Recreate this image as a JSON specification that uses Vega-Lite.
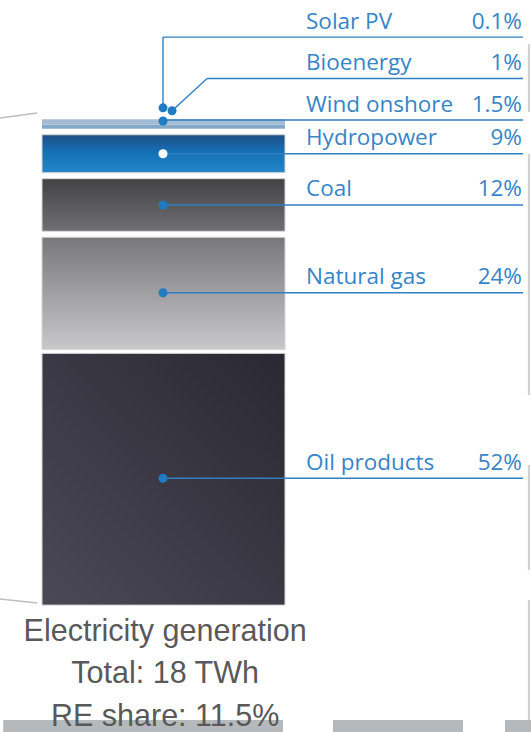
{
  "$schema": "https://vega.github.io/schema/vega-lite/v6.json",
  "width": 531,
  "height": 732,
  "autosize": {"type": "none"},
  "padding": 0,
  "background": "#ffffff",
  "config": {"view": {"stroke": null}},
  "layer": [
    {
      "data": {"values": [{}]},
      "mark": {"type": "rule", "color": "#bdbdbd", "strokeWidth": 1.5},
      "encoding": {
        "x": {"datum": 0, "type": "quantitative", "scale": {"domain": [0, 100], "nice": false, "zero": false}, "axis": null},
        "x2": {"datum": 6.97},
        "y": {"datum": 99.8, "type": "quantitative", "scale": {"domain": [-26, 124], "nice": false, "zero": false}, "axis": null},
        "y2": {"datum": 100.84}
      }
    },
    {
      "data": {"values": [{}]},
      "mark": {"type": "rule", "color": "#bdbdbd", "strokeWidth": 1.5},
      "encoding": {
        "x": {"datum": 0, "type": "quantitative", "scale": {"domain": [0, 100], "nice": false, "zero": false}, "axis": null},
        "x2": {"datum": 6.97},
        "y": {"datum": 1.25, "type": "quantitative", "scale": {"domain": [-26, 124], "nice": false, "zero": false}, "axis": null},
        "y2": {"datum": 0.43}
      }
    },
    {
      "data": {"values": [{"y": 114.98, "y2": 101.05}, {"y": 92.44, "y2": 43.06}, {"y": 28.71, "y2": 7.2}, {"y": 1.05, "y2": -24.57}]},
      "mark": {"type": "rule", "color": "#cfcfcf", "strokeWidth": 2},
      "encoding": {
        "x": {"datum": 99.6, "type": "quantitative", "scale": {"domain": [0, 100], "nice": false, "zero": false}, "axis": null},
        "y": {"field": "y", "type": "quantitative", "scale": {"domain": [-26, 124], "nice": false, "zero": false}, "axis": null},
        "y2": {"field": "y2"}
      }
    },
    {
      "data": {"values": [{"x": 0.6, "x2": 53.3}, {"x": 62.7, "x2": 87.2}, {"x": 95.1, "x2": 100}]},
      "mark": {"type": "bar", "color": "#b6b9bb"},
      "encoding": {
        "x": {"field": "x", "type": "quantitative", "scale": {"domain": [0, 100], "nice": false, "zero": false}, "axis": null},
        "x2": {"field": "x2"},
        "y": {"datum": -23.55, "type": "quantitative", "scale": {"domain": [-26, 124], "nice": false, "zero": false}, "axis": null},
        "y2": {"datum": -26}
      }
    },
    {
      "data": {
        "values": [
          {"source": "Oil products", "share": 52, "order": 0},
          {"source": "Natural gas", "share": 24, "order": 1},
          {"source": "Coal", "share": 12, "order": 2},
          {"source": "Hydropower", "share": 9, "order": 3},
          {"source": "Wind onshore", "share": 1.5, "order": 4},
          {"source": "Bioenergy", "share": 1, "order": 5},
          {"source": "Solar PV", "share": 0.1, "order": 6}
        ]
      },
      "transform": [
        {"stack": "share", "groupby": [], "sort": [{"field": "order", "order": "ascending"}], "as": ["y0", "y1"]},
        {"joinaggregate": [{"op": "sum", "field": "share", "as": "total"}]},
        {"calculate": "(datum.y0 + datum.y1) / 2", "as": "mid"},
        {"calculate": "datum.order < 4 ? datum.mid : datum.total + (datum.order - 4) * 8.5 - 0.2", "as": "labelY"},
        {"calculate": "datum.order < 4 ? datum.mid : (datum.order == 4 ? datum.labelY - 0.2 : datum.total + (datum.order == 5 ? 1.7 : 2.3))", "as": "dotY"},
        {"calculate": "datum.order == 5 ? 32.4 : 30.7", "as": "dotX"},
        {"calculate": "datum.order == 5 ? 39 : 30.7", "as": "elbowX"},
        {"calculate": "datum.share + '%'", "as": "pct"}
      ],
      "layer": [
        {
          "transform": [{"filter": "datum.order == 0"}],
          "mark": {
            "type": "bar", "yOffset": 2, "stroke": "#d4d4d4", "strokeWidth": 1,
            "fill": {"gradient": "linear", "x1": 0, "y1": 1, "x2": 1, "y2": 0,
              "stops": [{"offset": 0, "color": "#4c4957"}, {"offset": 1, "color": "#2a2832"}]}
          },
          "encoding": {
            "x": {"datum": 7.91, "type": "quantitative", "scale": {"domain": [0, 100], "nice": false, "zero": false}, "axis": null},
            "x2": {"datum": 53.67},
            "y": {"field": "y1", "type": "quantitative", "scale": {"domain": [-26, 124], "nice": false, "zero": false}, "axis": null},
            "y2": {"field": "y0"}
          }
        },
        {
          "transform": [{"filter": "datum.order == 1"}],
          "mark": {
            "type": "bar", "yOffset": 3, "y2Offset": -2, "stroke": "#d4d4d4", "strokeWidth": 1,
            "fill": {"gradient": "linear", "x1": 0, "y1": 0, "x2": 0, "y2": 1,
              "stops": [{"offset": 0, "color": "#78777b"}, {"offset": 1, "color": "#c8c8ca"}]}
          },
          "encoding": {
            "x": {"datum": 7.91, "type": "quantitative", "scale": {"domain": [0, 100], "nice": false, "zero": false}, "axis": null},
            "x2": {"datum": 53.67},
            "y": {"field": "y1", "type": "quantitative", "scale": {"domain": [-26, 124], "nice": false, "zero": false}, "axis": null},
            "y2": {"field": "y0"}
          }
        },
        {
          "transform": [{"filter": "datum.order == 2"}],
          "mark": {
            "type": "bar", "yOffset": 3, "y2Offset": -3, "stroke": "#d4d4d4", "strokeWidth": 1,
            "fill": {"gradient": "linear", "x1": 0, "y1": 0, "x2": 0, "y2": 1,
              "stops": [{"offset": 0, "color": "#434245"}, {"offset": 1, "color": "#706f72"}]}
          },
          "encoding": {
            "x": {"datum": 7.91, "type": "quantitative", "scale": {"domain": [0, 100], "nice": false, "zero": false}, "axis": null},
            "x2": {"datum": 53.67},
            "y": {"field": "y1", "type": "quantitative", "scale": {"domain": [-26, 124], "nice": false, "zero": false}, "axis": null},
            "y2": {"field": "y0"}
          }
        },
        {
          "transform": [{"filter": "datum.order == 3"}],
          "mark": {
            "type": "bar", "yOffset": 3, "y2Offset": -3, "stroke": "#d4d4d4", "strokeWidth": 1,
            "fill": {"gradient": "linear", "x1": 0, "y1": 0, "x2": 0, "y2": 1,
              "stops": [{"offset": 0, "color": "#1f4e84"}, {"offset": 0.45, "color": "#1570b6"}, {"offset": 1, "color": "#2586c8"}]}
          },
          "encoding": {
            "x": {"datum": 7.91, "type": "quantitative", "scale": {"domain": [0, 100], "nice": false, "zero": false}, "axis": null},
            "x2": {"datum": 53.67},
            "y": {"field": "y1", "type": "quantitative", "scale": {"domain": [-26, 124], "nice": false, "zero": false}, "axis": null},
            "y2": {"field": "y0"}
          }
        },
        {
          "transform": [{"filter": "datum.order == 4"}],
          "mark": {"type": "bar", "y2Offset": -3, "fill": "#86a8c8"},
          "encoding": {
            "x": {"datum": 7.91, "type": "quantitative", "scale": {"domain": [0, 100], "nice": false, "zero": false}, "axis": null},
            "x2": {"datum": 53.67},
            "y": {"field": "y1", "type": "quantitative", "scale": {"domain": [-26, 124], "nice": false, "zero": false}, "axis": null},
            "y2": {"field": "y0"}
          }
        },
        {
          "transform": [{"filter": "datum.order >= 5"}],
          "mark": {"type": "bar", "fill": "#a3bcd4"},
          "encoding": {
            "x": {"datum": 7.91, "type": "quantitative", "scale": {"domain": [0, 100], "nice": false, "zero": false}, "axis": null},
            "x2": {"datum": 53.67},
            "y": {"field": "y1", "type": "quantitative", "scale": {"domain": [-26, 124], "nice": false, "zero": false}, "axis": null},
            "y2": {"field": "y0"}
          }
        },
        {
          "mark": {"type": "rule", "color": "#2f80c2", "strokeWidth": 1.4},
          "encoding": {
            "x": {"field": "dotX", "type": "quantitative", "scale": {"domain": [0, 100], "nice": false, "zero": false}, "axis": null},
            "x2": {"field": "elbowX"},
            "y": {"field": "dotY", "type": "quantitative", "scale": {"domain": [-26, 124], "nice": false, "zero": false}, "axis": null},
            "y2": {"field": "labelY"}
          }
        },
        {
          "mark": {"type": "rule", "color": "#2f80c2", "strokeWidth": 1.4},
          "encoding": {
            "x": {"field": "elbowX", "type": "quantitative", "scale": {"domain": [0, 100], "nice": false, "zero": false}, "axis": null},
            "x2": {"datum": 98.5},
            "y": {"field": "labelY", "type": "quantitative", "scale": {"domain": [-26, 124], "nice": false, "zero": false}, "axis": null},
            "y2": {"field": "labelY"}
          }
        },
        {
          "mark": {"type": "point", "filled": true, "size": 81, "opacity": 1, "strokeWidth": 0},
          "encoding": {
            "x": {"field": "dotX", "type": "quantitative", "scale": {"domain": [0, 100], "nice": false, "zero": false}, "axis": null},
            "y": {"field": "dotY", "type": "quantitative", "scale": {"domain": [-26, 124], "nice": false, "zero": false}, "axis": null},
            "fill": {"condition": {"test": "datum.order == 3", "value": "#ffffff"}, "value": "#1f7cc2"}
          }
        },
        {
          "mark": {"type": "text", "align": "left", "baseline": "alphabetic", "dy": -8.5, "font": "Open Sans", "fontSize": 22.5, "color": "#3585c7"},
          "encoding": {
            "x": {"datum": 57.63, "type": "quantitative", "scale": {"domain": [0, 100], "nice": false, "zero": false}, "axis": null},
            "y": {"field": "labelY", "type": "quantitative", "scale": {"domain": [-26, 124], "nice": false, "zero": false}, "axis": null},
            "text": {"field": "source"}
          }
        },
        {
          "mark": {"type": "text", "align": "right", "baseline": "alphabetic", "dy": -8.5, "font": "Open Sans", "fontSize": 22.5, "color": "#3585c7"},
          "encoding": {
            "x": {"datum": 98.3, "type": "quantitative", "scale": {"domain": [0, 100], "nice": false, "zero": false}, "axis": null},
            "y": {"field": "labelY", "type": "quantitative", "scale": {"domain": [-26, 124], "nice": false, "zero": false}, "axis": null},
            "text": {"field": "pct"}
          }
        }
      ]
    },
    {
      "data": {"values": [{}]},
      "mark": {"type": "text", "align": "center", "baseline": "alphabetic", "font": "Liberation Sans", "fontSize": 30.5, "lineHeight": 42.5, "color": "#595959"},
      "encoding": {
        "x": {"datum": 31.1, "type": "quantitative", "scale": {"domain": [0, 100], "nice": false, "zero": false}, "axis": null},
        "y": {"datum": -7.35, "type": "quantitative", "scale": {"domain": [-26, 124], "nice": false, "zero": false}, "axis": null},
        "text": {"value": ["Electricity generation", "Total: 18 TWh", "RE share: 11.5%"]}
      }
    }
  ]
}
